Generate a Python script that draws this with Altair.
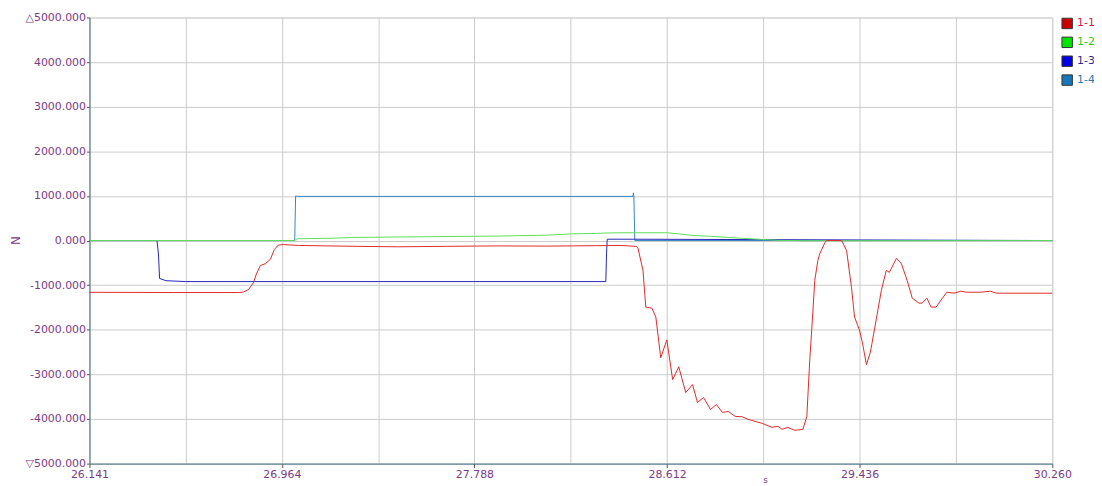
import altair as alt
import pandas as pd

# ---- data ----
red_t = [26.141, 26.500, 26.780, 26.800, 26.821, 26.842, 26.855, 26.872, 26.893, 26.915,
         26.932, 26.949, 26.970, 27.034, 27.161, 27.289, 27.459, 27.671, 27.884, 28.096,
         28.309, 28.415, 28.479, 28.487, 28.509, 28.521, 28.547, 28.564, 28.585, 28.611,
         28.636, 28.662, 28.692, 28.721, 28.742, 28.768, 28.798, 28.823, 28.849, 28.874,
         28.904, 28.934, 28.959, 29.019, 29.061, 29.087, 29.104, 29.129, 29.159, 29.193,
         29.210, 29.223, 29.231, 29.244, 29.257, 29.265, 29.287, 29.295, 29.359, 29.380,
         29.401, 29.414, 29.435, 29.448, 29.465, 29.482, 29.499, 29.529, 29.550, 29.563,
         29.593, 29.614, 29.639, 29.661, 29.690, 29.703, 29.724, 29.741, 29.763, 29.784,
         29.809, 29.839, 29.869, 29.894, 29.954, 29.996, 30.022, 30.260]
red_v = [-1160, -1165, -1165, -1155, -1100, -950, -750, -560, -520, -420,
         -200, -100, -90, -110, -120, -130, -140, -130, -120, -125,
         -115, -110, -130, -156, -668, -1492, -1514, -1715, -2628, -2227,
         -3118, -2829, -3408, -3229, -3630, -3519, -3786, -3675, -3853, -3831,
         -3942, -3950, -4009, -4098, -4187, -4165, -4232, -4187, -4254, -4232,
         -3942, -2628, -2004, -891, -450, -300, -50, 0, 0, -223,
         -1047, -1715, -2004, -2294, -2784, -2500, -2004, -1114, -668, -713,
         -401, -512, -891, -1292, -1403, -1403, -1292, -1492, -1492, -1336,
         -1158, -1180, -1136, -1158, -1158, -1136, -1180, -1180]

green_t = [26.141, 27.019, 27.030, 27.161, 27.289, 27.459, 27.671, 27.884, 28.096, 28.203,
           28.309, 28.356, 28.415, 28.611, 28.662, 28.721, 28.798, 28.874, 28.934, 29.019,
           29.087, 29.193, 30.260]
green_v = [0, 0, 40, 50, 70, 80, 90, 100, 120, 150,
           160, 170, 175, 175, 150, 115, 95, 70, 50, 25,
           5, -5, 0]

blue_t = [26.141, 26.430, 26.436, 26.441, 26.447, 26.468, 26.553, 28.350, 28.353, 28.356, 28.470, 30.260]
blue_v = [0, 0, -300, -850, -860, -900, -920, -920, -300, 30, 30, 0]

teal_t = [26.141, 27.019, 27.023, 27.030, 28.466, 28.468, 28.470, 28.474, 30.260]
teal_v = [0, 0, 1000, 990, 990, 1070, 1000, 0, 0]

series_names = ["1-1", "1-2", "1-3", "1-4"]
line_colors = ["#e02a2a", "#5fe05a", "#2525bb", "#3587bd"]
swatch_colors = ["#cc0000", "#00e600", "#0000e6", "#1478b8"]
label_colors = ["#cc2244", "#22cc22", "#2a2a9a", "#2a7ab0"]

x_ticks = [26.141, 26.553, 26.964, 27.376, 27.788, 28.200, 28.612, 29.024, 29.436, 29.848, 30.260]
y_ticks = [-5000, -4000, -3000, -2000, -1000, 0, 1000, 2000, 3000, 4000, 5000]

rows = []
for name, ts, vs in [("1-1", red_t, red_v), ("1-2", green_t, green_v),
                     ("1-3", blue_t, blue_v), ("1-4", teal_t, teal_v)]:
    for t, v in zip(ts, vs):
        rows.append({"series": name, "t": t, "v": v})
df = pd.DataFrame(rows)

purple = "#7a3a86"
font = "DejaVu Sans"

x_enc = alt.X("t:Q",
              scale=alt.Scale(domain=[26.141, 30.260], nice=False, zero=False),
              axis=alt.Axis(values=x_ticks, title="s", grid=True, gridColor="#cccccc",
                            labelExpr="round((datum.value-26.141)/0.4119) % 2 == 0 ? format(datum.value, '.3f') : ''",
                            tickOpacity={"condition": {"test": "round((datum.value-26.141)/0.4119) % 2 == 1", "value": 0}, "value": 1},
                            labelColor=purple, labelFont=font, labelFontSize=11,
                            tickColor="#555555", tickSize=4, domainColor="#4a7088",
                            labelPadding=1, labelFlush=False,
                            titleColor=purple, titleFont=font, titleFontSize=9,
                            titleFontWeight="normal", titleX=680, titleY=12,
                            titleBaseline="top"))
y_enc = alt.Y("v:Q",
              scale=alt.Scale(domain=[-5000, 5000], nice=False),
              axis=alt.Axis(values=y_ticks, title="N", grid=True, gridColor="#cccccc",
                            labelExpr="datum.value == 5000 ? '△5000.000' : datum.value == -5000 ? '▽5000.000' : (datum.value < 0 ? '-' : '') + format(abs(datum.value), '.3f')",
                            labelColor=purple, labelFont=font, labelFontSize=11,
                            tickColor="#555555", tickSize=3, domainColor="#4a7088",
                            labelPadding=1, labelFlush=False,
                            titleColor=purple, titleFont=font, titleFontSize=12,
                            titleFontWeight="normal", titleX=-74, titleY=224,
                            titleAngle=-90, titleBaseline="middle", titleAlign="center"))

base = alt.Chart(df)

def line_layer(name, color):
    return base.transform_filter(alt.datum.series == name).mark_line(
        strokeWidth=1, color=color, interpolate="linear").encode(x=x_enc, y=y_enc)

layers = [line_layer("1-4", line_colors[3]),
          line_layer("1-3", line_colors[2]),
          line_layer("1-2", line_colors[1]),
          line_layer("1-1", line_colors[0])]

label_expr = ("datum.label == '1-1' ? '%s' : datum.label == '1-2' ? '%s' : "
              "datum.label == '1-3' ? '%s' : '%s'") % tuple(label_colors)

legend_layer = base.transform_filter("false").mark_point(
    shape="square", filled=True, opacity=1).encode(
    x=x_enc, y=y_enc,
    fill=alt.Fill("series:N",
                  scale=alt.Scale(domain=series_names, range=swatch_colors),
                  legend=alt.Legend(title=None, orient="none", legendX=978, legendY=0,
                                    symbolType="square", symbolSize=110,
                                    symbolStrokeColor="#333333", symbolStrokeWidth=1,
                                    symbolOpacity=1,
                                    labelFont=font, labelFontSize=11,
                                    labelColor={"expr": label_expr},
                                    labelOffset=4, rowPadding=3)))

chart = alt.layer(*layers, legend_layer).properties(
    width=969, height=449,
    autosize=alt.AutoSizeParams(type="none"),
    padding={"left": 82, "top": 8, "right": 42, "bottom": 22},
).configure_view(stroke="#5a7f98", strokeWidth=1).configure(background="white")

chart.save("out.html", embed_options={"renderer": "svg", "actions": False})
